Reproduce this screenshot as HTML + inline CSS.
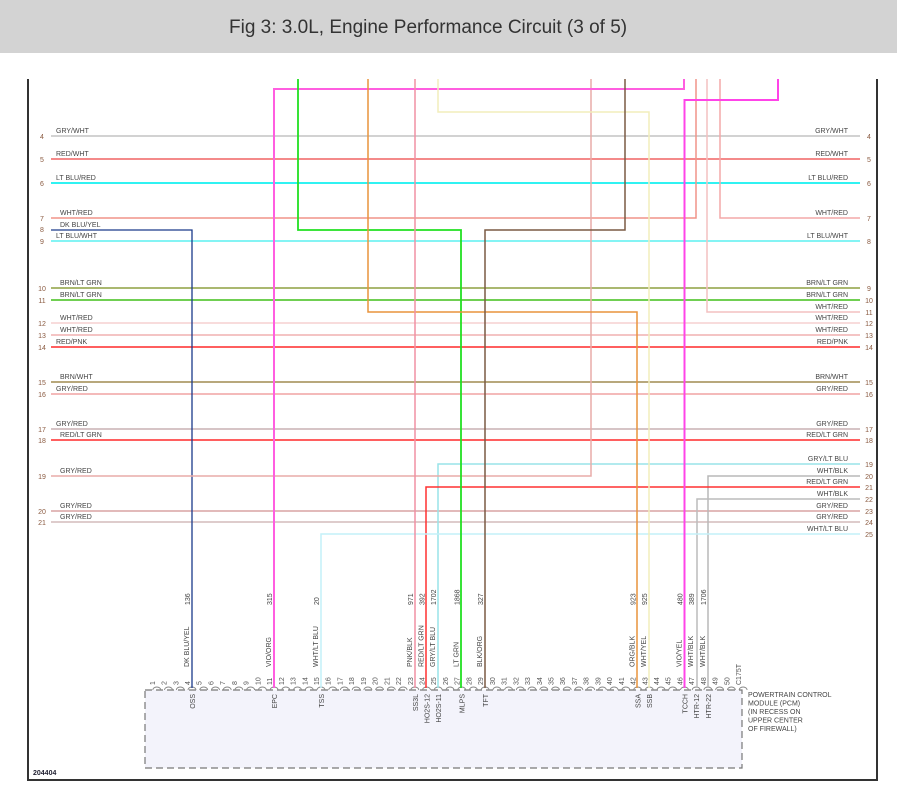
<!DOCTYPE html>
<html><head><meta charset="utf-8"><style>
html,body{margin:0;padding:0;background:#fff;}
body{width:897px;height:794px;overflow:hidden;position:relative;}
svg{position:absolute;left:0;top:0;}
text{font-family:"Liberation Sans",Arial,sans-serif;}
.l{font-size:7px;fill:#444;}
.n{font-size:7px;fill:#8a5a40;}
.p{font-size:7px;fill:#555;}
</style></head><body>
<svg width="897" height="794" viewBox="0 0 897 794" xmlns="http://www.w3.org/2000/svg">
<rect x="0" y="0" width="897" height="53" fill="#d3d3d3"/>
<text x="229" y="33" font-size="19" fill="#333">Fig 3: 3.0L, Engine Performance Circuit (3 of 5)</text>

<!-- frame -->
<path d="M28,79 V780 H877 V79" fill="none" stroke="#333" stroke-width="2"/>

<!-- connector box -->
<rect x="145" y="690" width="597" height="78" fill="#f3f3fb" stroke="#777" stroke-width="1.2" stroke-dasharray="7,4"/>
<g fill="none" stroke="#888" stroke-width="1">
<path d="M152.8,690 A4,3 0 0 1 160.8,690 M164.5,690 A4,3 0 0 1 172.5,690 M176.3,690 A4,3 0 0 1 184.3,690 M188,690 A4,3 0 0 1 196,690 M199.7,690 A4,3 0 0 1 207.7,690 M211.5,690 A4,3 0 0 1 219.5,690 M223.2,690 A4,3 0 0 1 231.2,690 M234.9,690 A4,3 0 0 1 242.9,690 M246.6,690 A4,3 0 0 1 254.6,690 M258.4,690 A4,3 0 0 1 266.4,690 M270.1,690 A4,3 0 0 1 278.1,690 M281.8,690 A4,3 0 0 1 289.8,690 M293.5,690 A4,3 0 0 1 301.5,690 M305.3,690 A4,3 0 0 1 313.3,690 M317,690 A4,3 0 0 1 325,690 M328.7,690 A4,3 0 0 1 336.7,690 M340.4,690 A4,3 0 0 1 348.4,690 M352.2,690 A4,3 0 0 1 360.2,690 M363.9,690 A4,3 0 0 1 371.9,690 M375.6,690 A4,3 0 0 1 383.6,690 M387.3,690 A4,3 0 0 1 395.3,690 M399.1,690 A4,3 0 0 1 407.1,690 M410.8,690 A4,3 0 0 1 418.8,690 M422.5,690 A4,3 0 0 1 430.5,690 M434.2,690 A4,3 0 0 1 442.2,690 M446,690 A4,3 0 0 1 454,690 M457.7,690 A4,3 0 0 1 465.7,690 M469.4,690 A4,3 0 0 1 477.4,690 M481.1,690 A4,3 0 0 1 489.1,690 M492.9,690 A4,3 0 0 1 500.9,690 M504.6,690 A4,3 0 0 1 512.6,690 M516.3,690 A4,3 0 0 1 524.3,690 M528,690 A4,3 0 0 1 536,690 M539.8,690 A4,3 0 0 1 547.8,690 M551.5,690 A4,3 0 0 1 559.5,690 M563.2,690 A4,3 0 0 1 571.2,690 M574.9,690 A4,3 0 0 1 582.9,690 M586.7,690 A4,3 0 0 1 594.7,690 M598.4,690 A4,3 0 0 1 606.4,690 M610.1,690 A4,3 0 0 1 618.1,690 M621.8,690 A4,3 0 0 1 629.8,690 M633.6,690 A4,3 0 0 1 641.6,690 M645.3,690 A4,3 0 0 1 653.3,690 M657,690 A4,3 0 0 1 665,690 M668.7,690 A4,3 0 0 1 676.7,690 M680.5,690 A4,3 0 0 1 688.5,690 M692.2,690 A4,3 0 0 1 700.2,690 M703.9,690 A4,3 0 0 1 711.9,690 M715.6,690 A4,3 0 0 1 723.6,690 M727.4,690 A4,3 0 0 1 735.4,690 M739.1,690 A4,3 0 0 1 747.1,690"/>
</g>

<!-- horizontal full wires -->
<g fill="none" stroke-width="1.5">
<line x1="51" y1="136" x2="860" y2="136" stroke="#c4c4c4"/>
<line x1="51" y1="159" x2="860" y2="159" stroke="#f06464"/>
<line x1="51" y1="183" x2="860" y2="183" stroke="#30f2f2" stroke-width="2"/>
<line x1="51" y1="241" x2="860" y2="241" stroke="#5cf0f0"/>
<line x1="51" y1="288" x2="860" y2="288" stroke="#8ea040"/>
<line x1="51" y1="300" x2="860" y2="300" stroke="#5cc83a" stroke-width="1.8"/>
<line x1="51" y1="323" x2="860" y2="323" stroke="#f6d0d0"/>
<line x1="51" y1="335" x2="860" y2="335" stroke="#f0b0b0"/>
<line x1="51" y1="347" x2="860" y2="347" stroke="#ff2a2a"/>
<line x1="51" y1="382" x2="860" y2="382" stroke="#a08c50"/>
<line x1="51" y1="394" x2="860" y2="394" stroke="#f0a4a4"/>
<line x1="51" y1="429" x2="860" y2="429" stroke="#c8b0b4"/>
<line x1="51" y1="440" x2="860" y2="440" stroke="#ff2a2a"/>
<line x1="51" y1="511" x2="860" y2="511" stroke="#d8a4a4"/>
<line x1="51" y1="522" x2="860" y2="522" stroke="#d4bcbc"/>

<!-- partial wires -->
<path d="M51,218 H696 V79" stroke="#f09488"/>
<path d="M720,79 V218 H860" stroke="#f4a8a8"/>
<path d="M51,230 H192 V688" stroke="#1a3a8a" stroke-width="1.3"/>
<path d="M707,79 V312 H860" stroke="#f4c0c0"/>
<path d="M860,464 H438 V688" stroke="#98e4e8"/>
<path d="M51,476 H591 V79" stroke="#e8aca8"/>
<path d="M860,476 H708 V688" stroke="#b8b8b8"/>
<path d="M860,487 H426 V688" stroke="#ff3030"/>
<path d="M860,499 H697 V688" stroke="#bcbcbc"/>
<path d="M860,534 H321 V688" stroke="#c4f0f8"/>

<!-- verticals from top -->
<path d="M684,79 V89 H274 V688" stroke="#ff5ee0" stroke-width="2"/>
<path d="M298,79 V230 H461 V688" stroke="#22e022" stroke-width="1.8"/>
<path d="M368,79 V312 H637 V688" stroke="#e8943c"/>
<path d="M415,79 V688" stroke="#f090a4"/>
<path d="M438,79 V112 H649 V688" stroke="#f2eebc"/>
<path d="M625,79 V230 H485 V688" stroke="#7a5a44"/>
<path d="M778,79 V100 H684.5 V688" stroke="#ff44e8" stroke-width="2"/>
</g>

<!-- left labels -->
<g class="l">
<text x="56" y="133">GRY/WHT</text>
<text x="56" y="156">RED/WHT</text>
<text x="56" y="180">LT BLU/RED</text>
<text x="60" y="215">WHT/RED</text>
<text x="60" y="227">DK BLU/YEL</text>
<text x="56" y="238">LT BLU/WHT</text>
<text x="60" y="285">BRN/LT GRN</text>
<text x="60" y="297">BRN/LT GRN</text>
<text x="60" y="320">WHT/RED</text>
<text x="60" y="332">WHT/RED</text>
<text x="56" y="344">RED/PNK</text>
<text x="60" y="379">BRN/WHT</text>
<text x="56" y="391">GRY/RED</text>
<text x="56" y="426">GRY/RED</text>
<text x="60" y="437">RED/LT GRN</text>
<text x="60" y="473">GRY/RED</text>
<text x="60" y="508">GRY/RED</text>
<text x="60" y="519">GRY/RED</text>
</g>
<g class="n" text-anchor="middle">
<text x="42" y="139">4</text>
<text x="42" y="162">5</text>
<text x="42" y="186">6</text>
<text x="42" y="221">7</text>
<text x="42" y="232">8</text>
<text x="42" y="244">9</text>
<text x="42" y="291">10</text>
<text x="42" y="303">11</text>
<text x="42" y="326">12</text>
<text x="42" y="338">13</text>
<text x="42" y="350">14</text>
<text x="42" y="385">15</text>
<text x="42" y="397">16</text>
<text x="42" y="432">17</text>
<text x="42" y="443">18</text>
<text x="42" y="479">19</text>
<text x="42" y="514">20</text>
<text x="42" y="525">21</text>
</g>

<!-- right labels -->
<g class="l" text-anchor="end">
<text x="848" y="133">GRY/WHT</text>
<text x="848" y="156">RED/WHT</text>
<text x="848" y="180">LT BLU/RED</text>
<text x="848" y="215">WHT/RED</text>
<text x="848" y="238">LT BLU/WHT</text>
<text x="848" y="285">BRN/LT GRN</text>
<text x="848" y="297">BRN/LT GRN</text>
<text x="848" y="309">WHT/RED</text>
<text x="848" y="320">WHT/RED</text>
<text x="848" y="332">WHT/RED</text>
<text x="848" y="344">RED/PNK</text>
<text x="848" y="379">BRN/WHT</text>
<text x="848" y="391">GRY/RED</text>
<text x="848" y="426">GRY/RED</text>
<text x="848" y="437">RED/LT GRN</text>
<text x="848" y="461">GRY/LT BLU</text>
<text x="848" y="473">WHT/BLK</text>
<text x="848" y="484">RED/LT GRN</text>
<text x="848" y="496">WHT/BLK</text>
<text x="848" y="508">GRY/RED</text>
<text x="848" y="519">GRY/RED</text>
<text x="848" y="531">WHT/LT BLU</text>
</g>
<g class="n" text-anchor="middle">
<text x="869" y="139">4</text>
<text x="869" y="162">5</text>
<text x="869" y="186">6</text>
<text x="869" y="221">7</text>
<text x="869" y="244">8</text>
<text x="869" y="291">9</text>
<text x="869" y="303">10</text>
<text x="869" y="315">11</text>
<text x="869" y="326">12</text>
<text x="869" y="338">13</text>
<text x="869" y="350">14</text>
<text x="869" y="385">15</text>
<text x="869" y="397">16</text>
<text x="869" y="432">17</text>
<text x="869" y="443">18</text>
<text x="869" y="467">19</text>
<text x="869" y="479">20</text>
<text x="869" y="490">21</text>
<text x="869" y="502">22</text>
<text x="869" y="514">23</text>
<text x="869" y="525">24</text>
<text x="869" y="537">25</text>
</g>

<!-- circuit numbers (rotated) -->
<g class="l">
<text transform="translate(190,605) rotate(-90)">136</text>
<text transform="translate(272,605) rotate(-90)">315</text>
<text transform="translate(319,605) rotate(-90)">20</text>
<text transform="translate(413,605) rotate(-90)">971</text>
<text transform="translate(424.5,605) rotate(-90)">392</text>
<text transform="translate(436,605) rotate(-90)">1702</text>
<text transform="translate(459.5,605) rotate(-90)">1868</text>
<text transform="translate(483,605) rotate(-90)">327</text>
<text transform="translate(635.5,605) rotate(-90)">923</text>
<text transform="translate(647,605) rotate(-90)">925</text>
<text transform="translate(682.5,605) rotate(-90)">480</text>
<text transform="translate(694,605) rotate(-90)">389</text>
<text transform="translate(706,605) rotate(-90)">1706</text>
</g>
<!-- wire colour labels (rotated) -->
<g class="l">
<text transform="translate(189,667) rotate(-90)">DK BLU/YEL</text>
<text transform="translate(271,667) rotate(-90)">VIO/ORG</text>
<text transform="translate(318,667) rotate(-90)">WHT/LT BLU</text>
<text transform="translate(412,667) rotate(-90)">PNK/BLK</text>
<text transform="translate(423.5,667) rotate(-90)">RED/LT GRN</text>
<text transform="translate(435,667) rotate(-90)">GRY/LT BLU</text>
<text transform="translate(458.5,667) rotate(-90)">LT GRN</text>
<text transform="translate(482,667) rotate(-90)">BLK/ORG</text>
<text transform="translate(634.5,667) rotate(-90)">ORG/BLK</text>
<text transform="translate(646,667) rotate(-90)">WHT/YEL</text>
<text transform="translate(681.5,667) rotate(-90)">VIO/YEL</text>
<text transform="translate(693,667) rotate(-90)">WHT/BLK</text>
<text transform="translate(705,667) rotate(-90)">WHT/BLK</text>
</g>
<!-- pin numbers -->
<g class="p">
<text transform="translate(154.8,685) rotate(-90)">1</text>
<text transform="translate(166.5,685) rotate(-90)">2</text>
<text transform="translate(178.3,685) rotate(-90)">3</text>
<text transform="translate(190,685) rotate(-90)">4</text>
<text transform="translate(201.7,685) rotate(-90)">5</text>
<text transform="translate(213.5,685) rotate(-90)">6</text>
<text transform="translate(225.2,685) rotate(-90)">7</text>
<text transform="translate(236.9,685) rotate(-90)">8</text>
<text transform="translate(248.6,685) rotate(-90)">9</text>
<text transform="translate(260.4,685) rotate(-90)">10</text>
<text transform="translate(272.1,685) rotate(-90)">11</text>
<text transform="translate(283.8,685) rotate(-90)">12</text>
<text transform="translate(295.5,685) rotate(-90)">13</text>
<text transform="translate(307.3,685) rotate(-90)">14</text>
<text transform="translate(319,685) rotate(-90)">15</text>
<text transform="translate(330.7,685) rotate(-90)">16</text>
<text transform="translate(342.4,685) rotate(-90)">17</text>
<text transform="translate(354.2,685) rotate(-90)">18</text>
<text transform="translate(365.9,685) rotate(-90)">19</text>
<text transform="translate(377.6,685) rotate(-90)">20</text>
<text transform="translate(389.3,685) rotate(-90)">21</text>
<text transform="translate(401.1,685) rotate(-90)">22</text>
<text transform="translate(412.8,685) rotate(-90)">23</text>
<text transform="translate(424.5,685) rotate(-90)">24</text>
<text transform="translate(436.2,685) rotate(-90)">25</text>
<text transform="translate(448,685) rotate(-90)">26</text>
<text transform="translate(459.7,685) rotate(-90)">27</text>
<text transform="translate(471.4,685) rotate(-90)">28</text>
<text transform="translate(483.1,685) rotate(-90)">29</text>
<text transform="translate(494.9,685) rotate(-90)">30</text>
<text transform="translate(506.6,685) rotate(-90)">31</text>
<text transform="translate(518.3,685) rotate(-90)">32</text>
<text transform="translate(530,685) rotate(-90)">33</text>
<text transform="translate(541.8,685) rotate(-90)">34</text>
<text transform="translate(553.5,685) rotate(-90)">35</text>
<text transform="translate(565.2,685) rotate(-90)">36</text>
<text transform="translate(576.9,685) rotate(-90)">37</text>
<text transform="translate(588.7,685) rotate(-90)">38</text>
<text transform="translate(600.4,685) rotate(-90)">39</text>
<text transform="translate(612.1,685) rotate(-90)">40</text>
<text transform="translate(623.8,685) rotate(-90)">41</text>
<text transform="translate(635.6,685) rotate(-90)">42</text>
<text transform="translate(647.3,685) rotate(-90)">43</text>
<text transform="translate(659,685) rotate(-90)">44</text>
<text transform="translate(670.7,685) rotate(-90)">45</text>
<text transform="translate(682.5,685) rotate(-90)">46</text>
<text transform="translate(694.2,685) rotate(-90)">47</text>
<text transform="translate(705.9,685) rotate(-90)">48</text>
<text transform="translate(717.6,685) rotate(-90)">49</text>
<text transform="translate(729.4,685) rotate(-90)">50</text>
<text transform="translate(741.1,685) rotate(-90)">C175T</text>
</g>
<!-- signal names in box -->
<g class="l" text-anchor="end">
<text transform="translate(195,694) rotate(-90)">OSS</text>
<text transform="translate(277,694) rotate(-90)">EPC</text>
<text transform="translate(324,694) rotate(-90)">TSS</text>
<text transform="translate(418,694) rotate(-90)">SS3L</text>
<text transform="translate(429.5,694) rotate(-90)">HO2S-12</text>
<text transform="translate(441,694) rotate(-90)">HO2S-11</text>
<text transform="translate(464.5,694) rotate(-90)">MLPS</text>
<text transform="translate(488,694) rotate(-90)">TFT</text>
<text transform="translate(640.5,694) rotate(-90)">SSA</text>
<text transform="translate(652,694) rotate(-90)">SSB</text>
<text transform="translate(687.5,694) rotate(-90)">TCCH</text>
<text transform="translate(699,694) rotate(-90)">HTR-12</text>
<text transform="translate(711,694) rotate(-90)">HTR-22</text>
</g>
<g class="l">
<text x="748" y="697">POWERTRAIN CONTROL</text>
<text x="748" y="705.5">MODULE (PCM)</text>
<text x="748" y="714">(IN RECESS ON</text>
<text x="748" y="722.5">UPPER CENTER</text>
<text x="748" y="731">OF FIREWALL)</text>
</g>
<text x="33" y="775" font-size="7" font-weight="bold" fill="#223">204404</text>
</svg>
</body></html>
